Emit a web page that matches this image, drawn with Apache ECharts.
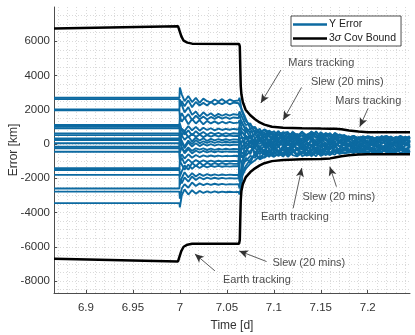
<!DOCTYPE html>
<html>
<head>
<meta charset="utf-8">
<script src="https://cdn.jsdelivr.net/npm/echarts@6/dist/echarts.min.js"></script>
<style>
  html, body { margin: 0; padding: 0; background: #fff; }
  #chart { width: 415px; height: 335px; }
</style>
</head>
<body>
<div id="chart"></div>
<script>
// time stamps [d] shared by all Monte Carlo runs
const T = [6.866, 6.9995,
  7.0, 7.002, 7.005, 7.009, 7.013, 7.017, 7.021, 7.025, 7.029, 7.033, 7.037, 7.041, 7.045, 7.049, 7.053, 7.057, 7.0625,
  7.0635, 7.066,
  7.07, 7.075, 7.08, 7.085, 7.09, 7.095, 7.1, 7.105, 7.11, 7.115, 7.12, 7.125, 7.13, 7.135, 7.14, 7.145, 7.15, 7.155,
  7.16, 7.165, 7.17, 7.175, 7.18, 7.185, 7.19, 7.195, 7.2, 7.205, 7.21, 7.215, 7.22, 7.225, 7.23, 7.235, 7.24, 7.245];

// Y error per run [km]
const yErrorRuns = [
  [2700, 2700, 3300, 2900, 2500, 2800, 2450, 2700, 2400, 2650, 2500, 2420, 2600, 2480, 2620, 2450, 2600, 2500, 2550, 2700, 1900,
   1350, 1100, 900, 700, 820, 560, 740, 500, 700, 420, 680, 380, 720, 450, 600, 350, 690, 480, 640, 300, 560, 420, 380, 460, 250, 430, 300, 410, 200, 450, 320, 180, 400, 260, 430, 300],
  [2620, 2620, 2200, 2500, 2200, 2550, 2150, 2450, 2250, 2400, 2250, 2450, 2300, 2420, 2330, 2450, 2320, 2420, 2380, 2400, 2000,
   1500, 900, 1000, 600, 850, 700, 500, 760, 300, 620, 550, 200, 700, 500, 350, 740, 420, 600, 250, 650, 480, 520, 300, 480, 350, 120, 460, 380, 150, 400, 470, 230, 350, 480, 150, 420],
  [2020, 2020, 2600, 2300, 1850, 2150, 1700, 1900, 1600, 1850, 1650, 1800, 1620, 1760, 1650, 1750, 1660, 1740, 1700, 1900, 1600,
   1100, 1200, 600, 900, 400, 780, 600, 250, 650, 700, 300, 600, 150, 550, 680, 400, 200, 650, 500, 100, 400, 300, 450, 150, 380, 420, 80, 350, 280, 460, 100, 300, 420, 200, 330, 100],
  [1970, 1970, 1500, 1800, 1500, 1750, 1400, 1650, 1450, 1600, 1430, 1580, 1470, 1600, 1480, 1570, 1470, 1550, 1520, 1700, 1200,
   900, 700, 800, 300, 600, 450, 200, 550, 400, 100, 600, 350, 500, 150, 450, 600, 100, 400, 550, 300, 150, 500, 250, 350, 50, 300, 400, 150, 380, 60, 250, 400, 120, 300, 220, 380],
  [1110, 1110, 1600, 1300, 1550, 1150, 1450, 1200, 1400, 1150, 1350, 1200, 1320, 1190, 1300, 1210, 1290, 1220, 1250, 1400, 900,
   700, 900, 300, 650, 200, 500, 300, 600, 100, 450, 300, 550, 0, 400, 250, 100, 500, 200, 350, 450, 50, 300, 200, 0, 280, 150, 50, 320, 100, 200, 350, 0, 200, 100, 300, 80],
  [1010, 1010, 700, 900, 750, 1050, 800, 1000, 780, 950, 820, 920, 800, 900, 820, 880, 830, 880, 850, 1000, 700,
   500, 300, 600, 150, 450, 100, 380, 200, -50, 400, 150, 300, -100, 250, 500, 50, 200, 350, -50, 300, 150, 250, -80, 200, 100, 300, -50, 150, 250, 0, 200, -100, 150, 280, 0, 180],
  [910, 910, 1200, 800, 550, 800, 500, 750, 560, 700, 540, 660, 570, 650, 560, 640, 580, 630, 600, 800, 400,
   300, 500, 100, 350, -100, 250, 50, 400, -150, 200, 300, -50, 350, 100, -150, 250, 400, 0, 150, -100, 200, 50, 250, -150, 100, 0, 200, -50, 150, 300, -100, 100, 0, 220, -80, 100],
  [620, 620, 300, 500, 750, 380, 600, 420, 550, 400, 520, 430, 520, 440, 510, 450, 500, 460, 480, 300, -200,
   100, -200, 300, 0, 250, -150, 150, -200, 300, 0, -250, 200, 50, -200, 300, -100, 100, -250, 200, 50, -150, 150, -100, 100, -200, 150, -50, 100, -150, 50, 200, -150, 100, -50, 150, -100],
  [520, 520, 900, 500, 250, 450, 150, 380, 200, 340, 180, 300, 210, 290, 220, 280, 230, 270, 250, 200, 400,
   -200, 200, -100, 300, -200, 100, -300, 150, -100, 250, -200, 0, -350, 100, -50, -300, 200, -150, 50, -250, 100, -100, 0, -200, 150, -150, 0, -100, 100, -200, 0, 100, -150, 50, -50, -150],
  [320, 320, 0, 200, -150, 200, 0, 230, 40, 160, 60, 150, 70, 140, 80, 130, 90, 120, 100, 500, 700,
   400, 0, 200, -200, 100, -300, 0, -150, 200, -350, -50, 150, -250, 0, -400, 100, -200, 0, -300, 100, -150, -250, 50, -300, -100, 0, -250, 50, -150, -300, 0, -200, 50, -250, -100, 0],
  [230, 230, 600, 100, -250, 100, -150, 50, -120, 10, -100, -10, -90, -20, -80, -30, -70, -40, -50, -300, -800,
   -400, -100, -500, -200, -450, 0, -300, -500, -100, -400, 100, -300, -500, -150, -350, 0, -450, -200, -100, -400, -250, 0, -350, -150, -300, -50, -350, -200, -50, -300, -250, -50, -300, -150, -350, -100],
  [40, 40, -500, -200, -450, -200, -400, -250, -330, -260, -350, -270, -340, -280, -330, -280, -320, -290, -300, -600, -500,
   -700, -400, -200, -600, -300, -500, -150, -450, -600, -200, -500, -300, -100, -550, -400, -200, -600, -350, -150, -450, -300, -400, -100, -350, -250, -400, -150, -300, -380, -100, -350, -250, -400, -200, -300, -380],
  [-160, -160, 400, -200, -550, -300, -550, -380, -500, -400, -490, -410, -480, -420, -470, -430, -460, -440, -450, -800, -1200,
   -1000, -700, -800, -400, -650, -300, -600, -350, -700, -450, -250, -650, -500, -300, -700, -400, -550, -200, -500, -350, -450, -250, -400, -450, -200, -380, -480, -250, -400, -300, -450, -200, -420, -350, -250, -450],
  [-250, -250, -900, -600, -850, -600, -800, -640, -760, -660, -740, -670, -730, -680, -720, -690, -710, -690, -700, -1500, -1700,
   -1300, -900, -600, -850, -500, -750, -450, -700, -500, -720, -400, -680, -550, -300, -700, -500, -650, -400, -600, -450, -550, -300, -500, -380, -520, -300, -480, -400, -520, -280, -500, -420, -300, -520, -400, -500],
  [-450, -450, -1100, -800, -1150, -900, -1100, -940, -1060, -960, -1040, -970, -1030, -980, -1020, -985, -1010, -990, -1000, -1800, -1900,
   -1450, -1150, -950, -700, -800, -600, -750, -550, -720, -350, -650, -720, -450, -680, -600, -250, -700, -550, -650, -400, -580, -500, -450, -530, -350, -500, -540, -300, -500, -450, -350, -530, -450, -300, -520, -420],
  [-1420, -1420, -1900, -1600, -1250, -1500, -1100, -1300, -1080, -1250, -1100, -1200, -1110, -1190, -1120, -1180, -1130, -1160, -1150, -700, -300,
   -200, -600, 100, -400, -100, -700, 0, -500, -200, -650, 50, -400, -200, -650, -100, -500, 0, -600, -300, -50, -500, -200, -450, -100, -400, -250, 50, -400, -200, -480, -100, -350, -450, -50, -300, -200],
  [-1520, -1520, -1000, -1200, -1500, -1200, -1450, -1250, -1400, -1260, -1360, -1270, -1340, -1280, -1330, -1290, -1320, -1300, -1300, 1200, 1300,
   800, 400, 600, 750, 350, 650, 450, 700, 550, 300, 720, 500, 650, 400, 720, 550, 300, 600, 450, 600, 350, 500, 400, 450, 300, 450, 380, 250, 420, 350, 450, 380, 200, 440, 350, 450],
  [-1800, -1800, -2400, -2000, -1650, -1950, -1700, -1900, -1740, -1860, -1760, -1840, -1770, -1830, -1780, -1820, -1790, -1810, -1800, -2200, -1500,
   -800, -1100, -500, -900, -750, -400, -700, -600, -300, -740, -500, -200, -700, -600, -450, -720, -300, -650, -500, -620, -300, -540, -500, -300, -520, -450, -200, -520, -400, -500, -200, -450, -500, -300, -450, -520],
  [-2600, -2600, -2100, -2300, -1950, -2200, -1900, -2100, -1940, -2060, -1960, -2040, -1970, -2030, -1980, -2020, -1990, -2010, -2000, -1000, 200,
   0, 500, -300, 400, 50, 600, -200, 300, 500, -100, 450, 200, -200, 500, 300, -100, 550, 250, 0, 450, 100, 350, 150, -100, 300, 200, -50, 350, 0, 250, 400, 50, 250, 350, -50, 250],
  [-2780, -2780, -3200, -2600, -2350, -2550, -2250, -2450, -2300, -2400, -2310, -2390, -2320, -2380, -2330, -2370, -2340, -2360, -2350, -2600, -1000,
   -600, 200, -700, -100, -600, 300, -500, -100, -700, 200, -400, -650, 0, -300, 250, -550, -250, 100, -600, -100, -400, 100, -350, -500, 0, -300, -100, -450, 100, -250, -400, -50, -300, 100, -400, -150],
  [-3450, -3450, -3700, -3000, -2650, -2950, -2700, -2900, -2740, -2860, -2760, -2840, -2770, -2830, -2780, -2820, -2790, -2810, -2800, -2950, -2200,
   1000, 600, -200, 500, 700, 100, 600, -100, 400, 650, 0, 450, 700, 200, 550, -50, 600, 350, 100, 550, 200, -50, 450, 100, 400, 250, 450, 0, 300, 400, 100, 450, 150, 400, 250, 350]
];

// 3-sigma covariance bound [km]
const tBound = [6.866, 6.998, 7.0, 7.0015, 7.004, 7.008, 7.013, 7.063, 7.0638, 7.0643,
  7.0648, 7.0655, 7.067, 7.07, 7.075, 7.08, 7.085, 7.09, 7.098, 7.11,
  7.13, 7.15, 7.16, 7.165, 7.172, 7.18, 7.19, 7.2, 7.21, 7.245];
const upperBound = [6750, 6880, 6820, 6300, 6030, 5920, 5860, 5840, 5700, 4500,
  3400, 2900, 2450, 2000, 1680, 1450, 1260, 1130, 1010, 950,
  920, 900, 895, 890, 860, 790, 730, 690, 680, 680];
const lowerBound = [-6700, -6860, -6800, -6250, -6000, -5880, -5830, -5830, -5600, -4400,
  -3300, -2750, -2350, -1950, -1640, -1420, -1250, -1120, -1000, -930,
  -890, -875, -840, -790, -720, -660, -615, -600, -600, -600];

const xTicks = [6.9, 6.95, 7, 7.05, 7.1, 7.15, 7.2];
const yTicks = [-8000, -6000, -4000, -2000, 0, 2000, 4000, 6000];

// annotations (data coords)
const annoText = ['Mars tracking', 'Slew (20 mins)', 'Mars tracking', 'Slew (20 mins)', 'Earth tracking', 'Slew (20 mins)', 'Earth tracking'];
const annoPos = [[7.1506, 4725], [7.1782, 3617], [7.2006, 2508], [7.1692, -3092], [7.1224, -4258], [7.1373, -6941], [7.082, -7933]];
const arrowTail = [[7.1075, 4317], [7.1295, 3307], [7.2004, 2082], [7.1206, -3751], [7.1667, -2490], [7.0923, -6864], [7.0373, -7408]];
const arrowTip = [[7.0862, 2392], [7.11, 1400], [7.1915, 1009], [7.1298, -1400], [7.1596, -1324], [7.0631, -6241], [7.016, -6416]];

const X_MIN = 6.866, X_MAX = 7.245, Y_MIN = -8700, Y_MAX = 8000;
const font = 'Liberation Sans, Arial, sans-serif';
const blue = '#0c6aa1';

const xMinor = [];
for (let i = 687; i <= 724; i++) xMinor.push(i / 100);
const yMinor = [];
for (let v = -8500; v <= 7500; v += 500) yMinor.push(v);

const chart = echarts.init(document.getElementById('chart'));

const series = [];
yErrorRuns.forEach((run) => {
  series.push({
    name: 'Y Error',
    type: 'line',
    data: run.map((v, i) => [T[i], v]),
    symbol: 'none',
    lineStyle: { color: blue, width: 1.9 },
    itemStyle: { color: blue },
    z: 2,
  });
});
[upperBound, lowerBound].forEach((b) => {
  series.push({
    name: '3σ Cov Bound',
    type: 'line',
    data: b.map((v, i) => [tBound[i], v]),
    symbol: 'none',
    lineStyle: { color: '#000', width: 2.5 },
    itemStyle: { color: '#000' },
    z: 3,
  });
});
series.push({
  type: 'line',
  data: [],
  silent: true,
  markLine: {
    silent: true,
    symbol: ['none', 'arrow'],
    symbolSize: [6, 9],
    label: { show: false },
    lineStyle: { color: '#333', width: 0.8, type: 'solid' },
    data: arrowTail.map((tl, i) => [{ coord: tl }, { coord: arrowTip[i] }]),
  },
  z: 4,
});
series.push({
  type: 'scatter',
  data: annoPos.map((p, i) => [p[0], p[1], annoText[i]]),
  symbolSize: 1,
  itemStyle: { color: 'rgba(0,0,0,0)' },
  silent: true,
  label: {
    show: true,
    position: 'inside',
    formatter: (p) => p.data[2],
    color: '#1a1a1a',
    fontFamily: font,
    fontSize: 11,
  },
  labelLayout: { hideOverlap: false },
  z: 5,
});

const gridLine = { show: true, lineStyle: { color: '#c4c4c4', type: [1, 2], width: 1 } };
const minorLine = { show: true, lineStyle: { color: '#dadada', type: [1, 2], width: 1 } };
const plain = (v) => String(v);

chart.setOption({
  animation: false,
  grid: { left: 54, right: 5, top: 7, bottom: 42, containLabel: false, outerBoundsMode: 'none' },
  legend: {
    data: ['Y Error', '3σ Cov Bound'],
    orient: 'vertical',
    left: 291,
    top: 16,
    icon: 'rect',
    itemWidth: 34,
    itemHeight: 2.5,
    itemGap: 3,
    padding: [3, 5, 2, 2],
    backgroundColor: '#fff',
    borderColor: '#222',
    borderWidth: 0.8,
    borderRadius: 0,
    textStyle: {
      fontFamily: font,
      fontSize: 10.5,
      color: '#222',
      padding: [0, 0, 0, -3],
      rich: { s: { fontStyle: 'italic', fontFamily: font, fontSize: 10.5, color: '#222' } },
    },
    formatter: (name) => (name === '3σ Cov Bound' ? '3{s|σ} Cov Bound' : name),
  },
  xAxis: [
    {
      type: 'value',
      min: X_MIN,
      max: X_MAX,
      name: 'Time [d]',
      nameLocation: 'middle',
      nameGap: 27,
      nameTextStyle: { fontFamily: font, fontSize: 12, color: '#333' },
      axisLine: { onZero: false, lineStyle: { color: '#4d4d4d', width: 1 } },
      axisTick: { show: true, inside: true, length: 3, customValues: xTicks, lineStyle: { color: '#4d4d4d' } },
      axisLabel: { customValues: xTicks, formatter: plain, margin: 9, fontFamily: font, fontSize: 11.5, color: '#333' },
      splitLine: gridLine,
    },
    {
      type: 'value',
      min: X_MIN,
      max: X_MAX,
      position: 'bottom',
      axisLine: { show: false, onZero: false },
      axisTick: { show: false, customValues: xMinor },
      axisLabel: { show: false },
      splitLine: minorLine,
    },
  ],
  yAxis: [
    {
      type: 'value',
      min: Y_MIN,
      max: Y_MAX,
      name: 'Error [km]',
      nameLocation: 'middle',
      nameGap: 34,
      nameMoveOverlap: false,
      nameTextStyle: { fontFamily: font, fontSize: 12, color: '#333' },
      axisLine: { show: true, onZero: false, lineStyle: { color: '#4d4d4d', width: 1 } },
      axisTick: { show: true, inside: true, length: 3, customValues: yTicks, lineStyle: { color: '#4d4d4d' } },
      axisLabel: { customValues: yTicks, formatter: plain, margin: 4, fontFamily: font, fontSize: 11.5, color: '#333' },
      splitLine: gridLine,
    },
    {
      type: 'value',
      min: Y_MIN,
      max: Y_MAX,
      position: 'left',
      axisLine: { show: false, onZero: false },
      axisTick: { show: false, customValues: yMinor },
      axisLabel: { show: false },
      splitLine: minorLine,
    },
  ],
  series: series,
});
</script>
</body>
</html>
